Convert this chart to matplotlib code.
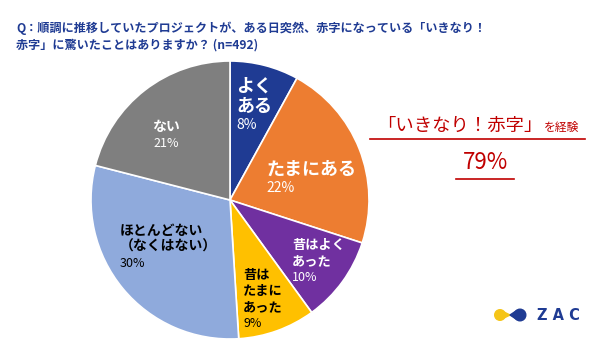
import matplotlib
matplotlib.use("Agg")
import matplotlib.pyplot as plt
from matplotlib.patches import Circle, Polygon
from matplotlib.lines import Line2D

plt.rcParams['font.family'] = ['Noto Sans CJK JP', 'DejaVu Sans']

# data
categories = ["よく\nある", "たまにある", "昔はよく\nあった", "昔は\nたまに\nあった",
              "ほとんどない\n（なくはない）", "ない"]
values = [8, 22, 10, 9, 30, 21]
colors = ["#1f3b93", "#ed7d31", "#7030a0", "#ffc000", "#8faadc", "#7f7f7f"]
text_colors = ["white", "white", "white", "black", "black", "white"]

title = "Q：順調に推移していたプロジェクトが、ある日突然、赤字になっている「いきなり！\n赤字」に驚いたことはありますか？ (n=492)"
callout = "「いきなり！赤字」"
callout_tail = "を経験"
callout_value = "79%"

W, H = 600, 350
fig = plt.figure(figsize=(6, 3.5), dpi=100)


def fx(px):
    return px / W


def fy(py):
    return 1 - py / H


# pie: centre (230, 200) px, radius ~139 px
cx, cy, r = 230, 200, 139
ax = fig.add_axes([fx(cx - r), fy(cy + r), 2 * r / W, 2 * r / H])
ax.pie(values, colors=colors, startangle=90, counterclock=False,
       wedgeprops=dict(edgecolor="white", linewidth=1.2))
ax.set_xlim(-1, 1)
ax.set_ylim(-1, 1)
ax.set_aspect("equal")
ax.axis("off")

# label layout: (left px, top px, name size, pct size, line pitch px, align)
layout = [
    (236, 77, 13, 10, 20, "left"),
    (266, 160, 13, 10, 20, "left"),
    (292, 238, 9.5, 9, 16, "left"),
    (243, 268, 9.5, 9, 16, "left"),
    (120, 224, 10, 9, 16, "left"),
    (166, 120, 10, 9, 16, "center"),
]
for cat, v, tc, (lx, ty, ns, ps, pitch, ha) in zip(categories, values, text_colors, layout):
    lines = cat.split("\n")
    for i, ln in enumerate(lines):
        fig.text(fx(lx), fy(ty + i * pitch), ln, color=tc, fontsize=ns,
                 fontweight="bold", ha=ha, va="top")
    fig.text(fx(lx), fy(ty + len(lines) * pitch + 1), f"{v}%", color=tc,
             fontsize=ps, ha=ha, va="top")

# title
fig.text(fx(16), fy(22), title, color="#1f3b93", fontsize=8.7,
         fontweight="bold", ha="left", va="top", linespacing=1.35)

# callout
red = "#c00000"
fig.text(fx(377), fy(131), callout, color=red, fontsize=13.2,
         ha="left", va="baseline")
fig.text(fx(544), fy(131), callout_tail, color=red, fontsize=8.5,
         ha="left", va="baseline")
fig.add_artist(Line2D([fx(370), fx(585)], [fy(139), fy(139)], color=red, lw=1.2))
fig.text(fx(485), fy(169), callout_value, color=red, fontsize=16,
         ha="center", va="baseline")
fig.add_artist(Line2D([fx(456), fx(514)], [fy(179), fy(179)], color=red, lw=1.2))

# ZAC logo
lax = fig.add_axes([fx(492), fy(325), 36 / W, 20 / H])
lax.set_xlim(0, 36)
lax.set_ylim(0, 20)
lax.set_aspect("equal")
lax.axis("off")
lax.add_patch(Circle((8, 10), 5.3, color="#f5c518"))
lax.add_patch(Circle((28, 10), 5.8, color="#1f3b93"))
lax.add_patch(Polygon([[12, 13], [18, 10], [12, 7]], color="#f5c518"))
lax.add_patch(Polygon([[24, 14], [18, 10], [24, 6]], color="#1f3b93"))
fig.text(fx(537), fy(315), "Z A C", color="#1f3b93", fontsize=10.5,
         fontweight="bold", ha="left", va="center", family="DejaVu Sans")

fig.savefig("out.png", dpi=100)
